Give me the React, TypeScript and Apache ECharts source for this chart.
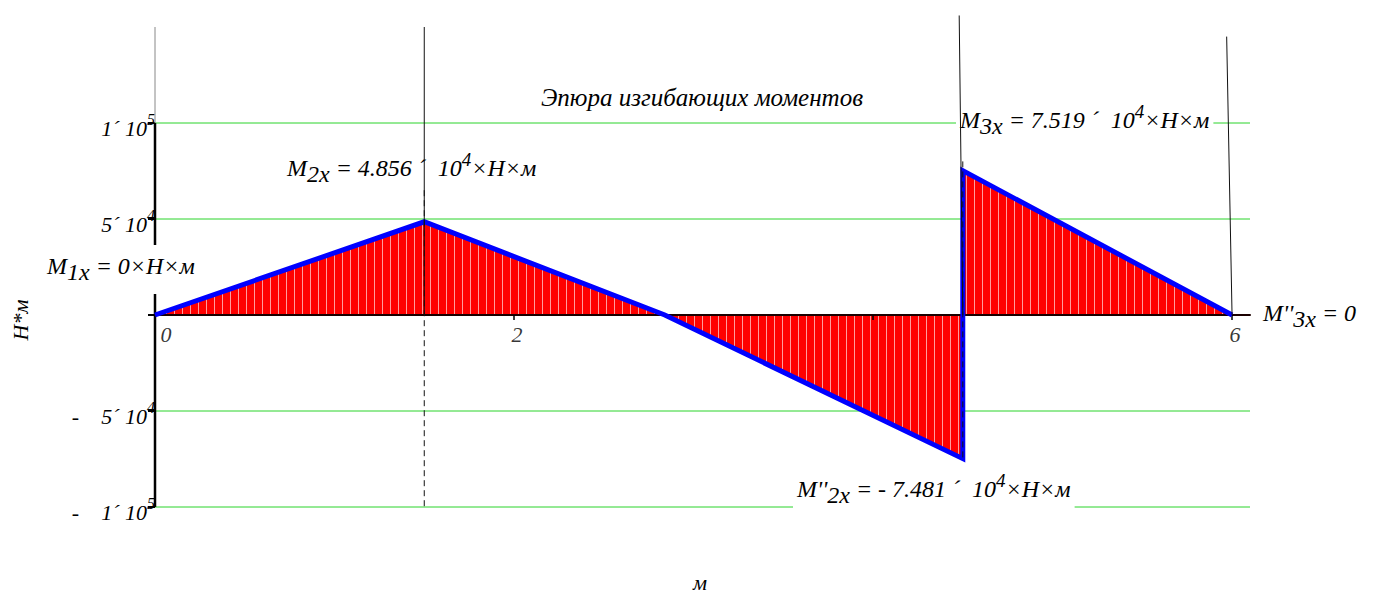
import { useEffect, useRef } from "react";
import * as echarts from "echarts";

// ---- data ----
const xPoints = [0, 1.5, 2.84, 4.5, 4.5, 6];
const momentValues = [0, 48560, 0, -74810, 75190, 0];
const xTickValues = [0, 2, 4, 6];
const xLabelValues = [0, 2, 6];
const yTickValues = [-100000, -50000, 0, 50000, 100000];
const yLabelValues = [-100000, -50000, 50000, 100000];
const gridValues = [-100000, -50000, 50000, 100000];
const markerBottomX = [1.5, 4.5, 6];
const markerTopX = [1.5, 4.48, 5.97];
const markerTopY = [150000, 156000, 145000];
const dashX = [1.5, 4.5];
const dashTopY = [65000, 80000];
const dashBottomY = [-100000, -75000];

const SERIF = '"Liberation Serif", "Times New Roman", serif';

const svgTile =
  "<svg xmlns='http://www.w3.org/2000/svg' width='8' height='8'><rect width='8' height='8' fill='#ff0000'/><rect x='6' y='0' width='1' height='8' fill='#ff9c9c'/></svg>";
const tileUrl = "data:image/svg+xml;charset=utf-8," + encodeURIComponent(svgTile);

const fmt = (v: number) => (Math.abs(v) / 1e4).toFixed(3);

export default function App() {
  const ref = useRef<HTMLDivElement>(null);
  useEffect(() => {
    document.body.style.margin = "0";
    const chart = echarts.init(ref.current!, null, { renderer: "svg" });
    const pts = xPoints.map((x, i) => [x, momentValues[i]]);

    const seg = (data: number[][], color: string, width: number, z: number, type: any = "solid") => ({
      type: "line",
      data,
      z,
      clip: false,
      silent: true,
      symbol: "none",
      showSymbol: false,
      lineStyle: { color, width, type },
    });

    const richText = {
      m: { fontFamily: SERIF, fontStyle: "italic", fontSize: 24, lineHeight: 36, verticalAlign: "middle", fill: "#000" },
      sub: { fontFamily: SERIF, fontStyle: "italic", fontSize: 24, lineHeight: 14, verticalAlign: "bottom", fill: "#000" },
      sup: { fontFamily: SERIF, fontStyle: "italic", fontSize: 19, lineHeight: 18, verticalAlign: "top", fill: "#000" },
    };

    const ann = (x: number, y: number, text: string, bg: boolean, padding: number[] = [0, 0, 0, 0]) => ({
      type: "text",
      x,
      y,
      z: 5,
      style: {
        text,
        rich: richText,
        align: "left",
        verticalAlign: "middle",
        backgroundColor: bg ? "#fff" : undefined,
        padding,
      },
    });

    const series: any[] = [];
    gridValues.forEach((v) => series.push(seg([[0, v], [6.1, v]], "#2ad42a", 1, 1)));
    series.push({
      type: "line",
      data: pts,
      z: 3,
      silent: true,
      symbol: "none",
      showSymbol: false,
      lineStyle: { width: 0, opacity: 0 },
      areaStyle: {
        color: { image: tileUrl, repeat: "repeat", imageWidth: 8, imageHeight: 8 },
        opacity: 1,
      },
    });
    series.push(seg([[0, yTickValues[0]], [0, yTickValues[yTickValues.length - 1]]], "#000", 2.5, 4));
    series.push(seg([[0, 150000], [0, 100000]], "#888", 1, 4));
    series.push({
      type: "line",
      data: pts,
      z: 6,
      silent: true,
      symbol: "none",
      showSymbol: false,
      lineStyle: { color: "#0000ff", width: 5, join: "miter" },
    });
    markerBottomX.forEach((bx, i) =>
      series.push(seg([[markerTopX[i], markerTopY[i]], [bx, 0]], "#111", 1, 10))
    );
    dashX.forEach((dx, i) =>
      series.push(seg([[dx, dashTopY[i]], [dx, dashBottomY[i]]], "#111", 1, 10, [6, 4]))
    );
    // x tick labels on the zero line
    series.push({
      type: "scatter",
      data: xLabelValues.map((v) => [v, 0]),
      z: 7,
      silent: true,
      symbolSize: 0,
      clip: false,
      label: {
        show: true,
        position: "bottom",
        distance: 8,
        formatter: (p: any) => (p.value[0] === 0 ? `{z|${p.value[0]}}` : `{n|${p.value[0]}}`),
        rich: {
          z: { fontFamily: SERIF, fontStyle: "italic", fontSize: 22, color: "#000", padding: [0, 0, 0, 22] },
          n: { fontFamily: SERIF, fontStyle: "italic", fontSize: 22, color: "#000", padding: [0, 0, 0, 6] },
        },
      },
    });

    const option: any = {
      animation: false,
      backgroundColor: "#fff",
      grid: { left: 155, right: 131, top: 27, bottom: 88, containLabel: false },
      xAxis: {
        type: "value",
        min: 0,
        max: 6.1,
        interval: 2,
        z: 4,
        axisLine: { show: true, onZero: true, lineStyle: { color: "#1a0000", width: 2 } },
        axisTick: { show: true, length: 5, customValues: xTickValues, lineStyle: { color: "#000", width: 1.5 } },
        axisLabel: { show: false },
        splitLine: { show: false },
      },
      yAxis: {
        type: "value",
        min: -100000,
        max: 150000,
        interval: 50000,
        z: 4,
        axisLine: { show: false },
        axisTick: { show: true, length: 7, customValues: yTickValues, lineStyle: { color: "#000", width: 2 } },
        axisLabel: {
          customValues: yLabelValues,
          margin: 0,
          padding: [10, 0, 0, 0],
          formatter: (v: number) => {
            const a = Math.abs(v);
            const exp = Math.floor(Math.log10(a) + 1e-9);
            const mant = Math.round(a / Math.pow(10, exp));
            return `{a|${v < 0 ? "-    " : ""}${mant}´ 10}{s|${exp}}`;
          },
          rich: {
            a: { fontFamily: SERIF, fontStyle: "italic", fontSize: 22, color: "#000", lineHeight: 34, verticalAlign: "middle" },
            s: { fontFamily: SERIF, fontStyle: "italic", fontSize: 16, color: "#000", lineHeight: 14, verticalAlign: "top" },
          },
        },
        splitLine: { show: false },
      },
      series,
      graphic: [
        {
          type: "text",
          x: 702,
          y: 97,
          z: 5,
          style: { text: "Эпюра изгибающих моментов", font: `italic 25px ${SERIF}`, fill: "#000", align: "center", verticalAlign: "middle" },
        },
        {
          type: "text",
          x: 20,
          y: 320,
          z: 5,
          rotation: Math.PI / 2,
          style: { text: "Н*м", font: `italic 22px ${SERIF}`, fill: "#000", align: "center", verticalAlign: "middle" },
        },
        {
          type: "text",
          x: 700,
          y: 582,
          z: 5,
          style: { text: "м", font: `italic 22px ${SERIF}`, fill: "#000", align: "center", verticalAlign: "middle" },
        },
        ann(43, 269.5, `{m|M}{sub|1x}{m| = ${momentValues[0]}×Н×м}`, true, [3, 4, 10, 4]),
        ann(287, 168, `{m|M}{sub|2x}{m| = ${fmt(momentValues[1])} ´  10}{sup|4}{m|×Н×м}`, false),
        ann(956, 120, `{m|M}{sub|3x}{m| = ${fmt(momentValues[4])} ´  10}{sup|4}{m|×Н×м}`, true, [0, 4, 0, 4]),
        ann(793, 492, `{m|M''}{sub|2x}{m| = - ${fmt(momentValues[3])} ´  10}{sup|4}{m|×Н×м}`, true, [0, 4, 6, 4]),
        ann(1263, 313, `{m|M''}{sub|3x}{m| = ${momentValues[5]}}`, false),
      ],
    };
    chart.setOption(option);
    return () => chart.dispose();
  }, []);
  return <div ref={ref} style={{ width: 1381, height: 595 }} />;
}
